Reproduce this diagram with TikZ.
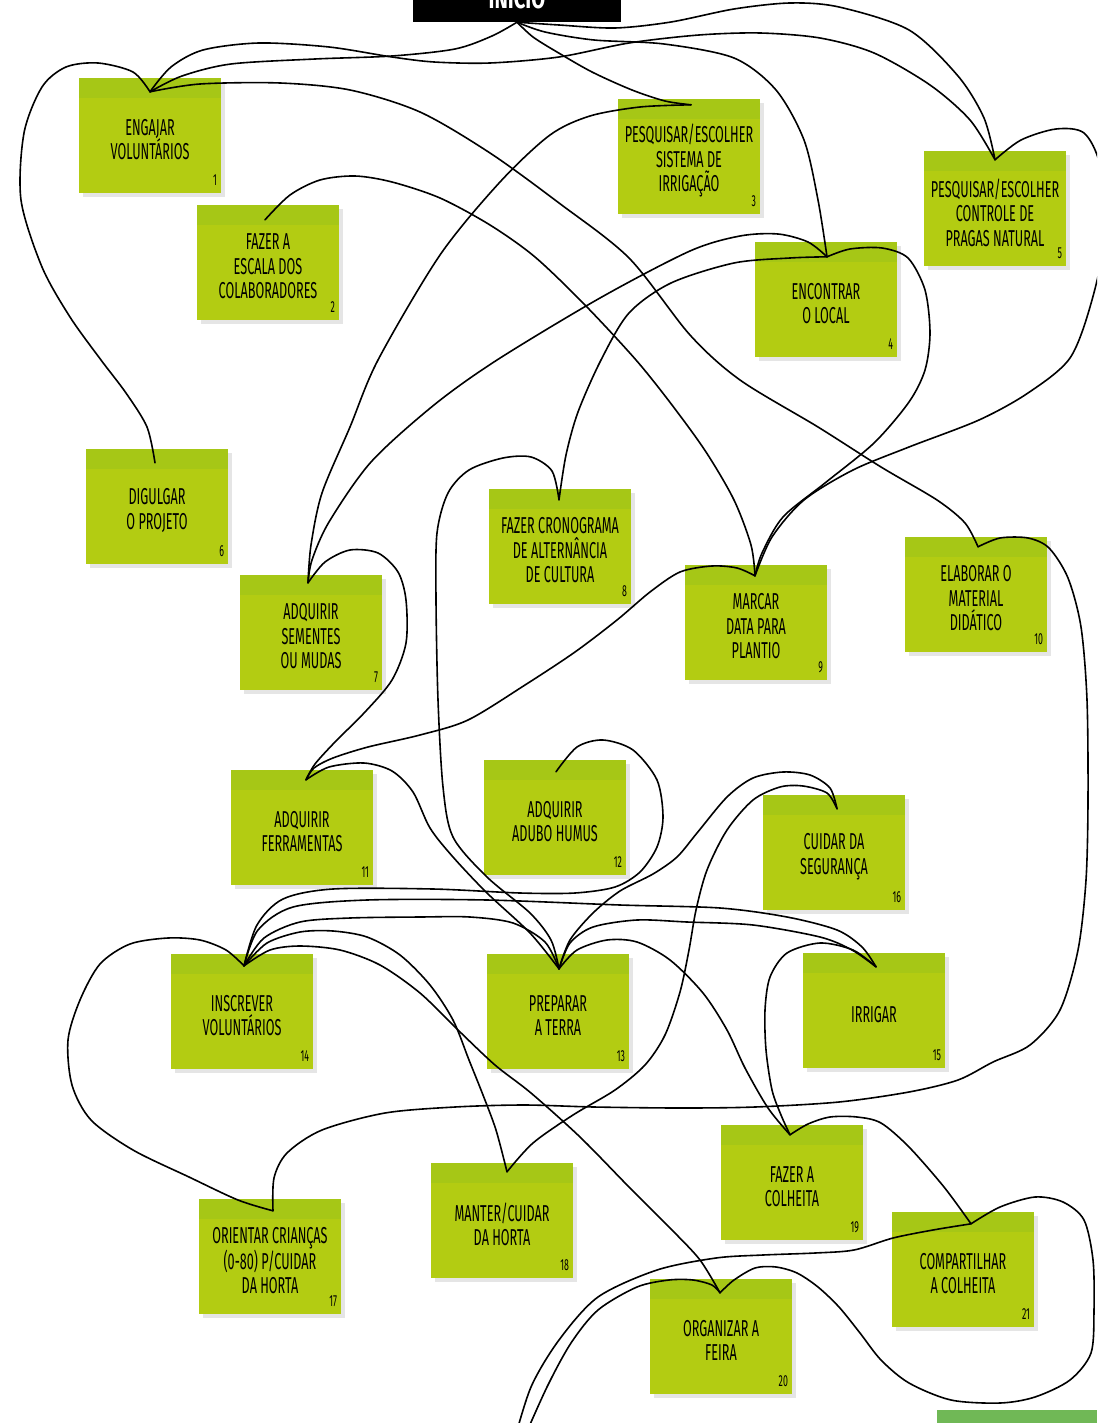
\documentclass[tikz,border=0pt]{standalone}
\usepackage{fontspec}
\newfontfamily\notefont{Fira Sans}[FakeStretch=0.55]
\newfontfamily\startfont{Fira Sans}[FakeStretch=0.72]
\usetikzlibrary{calc,shadows}
\definecolor{noteBody}{RGB}{179,204,18}
\definecolor{noteBand}{RGB}{166,199,22}
\definecolor{nextGreen}{RGB}{112,184,86}
\begin{document}
\begin{tikzpicture}
[x=1pt,y=-1pt,
  noteDecorate/.style={shape=rectangle,fill=noteBody,minimum width=142pt,minimum height=115pt,inner sep=0pt,%
    drop shadow={opacity=1,fill=black!10,shadow xshift=4pt,shadow yshift=-4pt}},%
  textDecorate/.style={align=center,inner sep=0pt,font=\notefont\fontsize{23}{24.5}\selectfont},%
  numDecorate/.style={anchor=east,inner sep=0pt,font=\notefont\fontsize{16}{16}\selectfont},%
  lineDecorate/.style={line width=1.6pt,line join=round,line cap=round}]
\useasboundingbox (0,0) rectangle (1097,1423);
\clip (0,0) rectangle (1097,1423);
%% start box and the cut box at the bottom
\node (start) at (517,0) [fill=black,minimum width=208pt,minimum height=44pt,inner sep=0pt] {};
\node [anchor=base,text=white,font=\startfont\bfseries\fontsize{28}{28}\selectfont] at (517,9) {INÍCIO};
\node (nextbox) at (1017,1425) [fill=nextGreen,minimum width=160pt,minimum height=30pt,inner sep=0pt] {};
\coordinate (t0) at (start.south);
\coordinate (exitA) at (513,1445);
\coordinate (exitB) at (521,1445);
%% notes
\foreach \id/\x/\y/\dx/\dy/\txt in {
  1/150/135.5/0/14/{ENGAJAR\\VOLUNTÁRIOS},
  2/268/262.5/-3/15/{FAZER A\\ESCALA DOS\\COLABORADORES},
  3/689/156.5/2/6/{PESQUISAR/ESCOLHER\\SISTEMA DE\\IRRIGAÇÃO},
  4/826/299.5/1/15/{ENCONTRAR\\O LOCAL},
  5/995/208.5/0/9/{PESQUISAR/ESCOLHER\\CONTROLE DE\\PRAGAS NATURAL},
  6/157/506.5/-2/14/{DIGULGAR\\O PROJETO},
  7/311/632.5/-3/8/{ADQUIRIR\\SEMENTES\\OU MUDAS},
  8/560/546.5/-1/11/{FAZER CRONOGRAMA\\DE ALTERNÂNCIA\\DE CULTURA},
  9/756/622.5/-1/11/{MARCAR\\DATA PARA\\PLANTIO},
  10/976/594.5/2/10/{ELABORAR O\\MATERIAL\\DIDÁTICO},
  11/302/827.5/4/10/{ADQUIRIR\\FERRAMENTAS},
  12/555/817.5/1/12/{ADQUIRIR\\ADUBO HUMUS},
  13/558/1011.5/1/15/{PREPARAR\\A TERRA},
  14/242/1011.5/2/12/{INSCREVER\\VOLUNTÁRIOS},
  15/874/1010.5/2/14/{IRRIGAR},
  16/834/852.5/3/14/{CUIDAR DA\\SEGURANÇA},
  17/270/1256.5/3/12/{ORIENTAR CRIANÇAS\\(0-80) P/CUIDAR\\DA HORTA},
  18/502/1220.5/5/9/{MANTER/CUIDAR\\DA HORTA},
  19/792/1182.5/-2/10/{FAZER A\\COLHEITA},
  20/721/1336.5/-1/14/{ORGANIZAR A\\FEIRA},
  21/963/1269.5/8/12/{COMPARTILHAR\\A COLHEITA}}
{
  \node (n\id) at (\x,\y) [noteDecorate] {};
  \fill [noteBand] (n\id.north west) rectangle ($(n\id.north east)+(0,20)$);
  \node [textDecorate] at ($(n\id.center)+(0,4)$) {\txt};
  \node [numDecorate] at ($(n\id.south east)+(-4,-13)$) {\id};
  \coordinate (t\id) at ($(n\id.north)+(\dx,\dy)$);
}
%% connectors
\draw [lineDecorate] plot [smooth] coordinates {(t0) (492,36) (455,49) (392,56) (315,59) (231,64) (182,76) (t1)};
\draw [lineDecorate] plot [smooth] coordinates {(t0) (533,37) (557,52) (592,72) (632,90) (665,101) (t3)};
\draw [lineDecorate] plot [smooth] coordinates {(t0) (545,32) (594,40) (664,44) (734,58) (776,90) (804,140) (818,200) (t4)};
\draw [lineDecorate] plot [smooth] coordinates {(t0) (559,25) (615,28) (671,22) (734,9) (790,3) (839,7) (909,30) (958,76) (984,118) (t5)};
\draw [lineDecorate] plot [smooth] coordinates {(t1) (171,67) (203,50) (259,43) (329,47) (392,57) (434,62) (490,63) (559,57) (629,43) (699,35) (760,33) (820,38) (874,53) (930,85) (970,120) (t5)};
\draw [lineDecorate] plot [smooth] coordinates {(t1) (200,84) (280,83) (350,90) (420,112) (490,153) (559,203) (629,258) (690,335) (740,380) (818,427) (881,467) (937,500) (965,523) (t10)};
\draw [lineDecorate] plot [smooth] coordinates {(t1) (133,72) (98,63) (66,67) (42,87) (24,133) (21,200) (42,267) (70,317) (101,360) (126,393) (147,427) (t6)};
\draw [lineDecorate] plot [smooth] coordinates {(t2) (290,195) (320,180) (355,176) (392,182) (440,198) (490,225) (535,257) (585,305) (636,360) (672,405) (706,452) (734,500) (751,545) (t9)};
\draw [lineDecorate] plot [smooth] coordinates {(t3) (640,107) (590,116) (550,135) (500,182) (440,255) (378,360) (350,427) (322,493) (311,545) (t7)};
\draw [lineDecorate] plot [smooth] coordinates {(t4) (808,242) (778,234) (740,236) (690,251) (600,298) (497,360) (434,405) (371,462) (329,522) (312,560) (t7)};
\draw [lineDecorate] plot [smooth] coordinates {(t4) (790,258) (734,263) (671,283) (629,313) (601,360) (578,412) (566,455) (t8)};
\draw [lineDecorate] plot [smooth] coordinates {(t4) (850,249) (882,248) (908,258) (925,290) (930,333) (925,370) (909,402) (874,443) (825,483) (783,517) (762,553) (t9)};
\draw [lineDecorate] plot [smooth] coordinates {(t5) (1021,140) (1056,129) (1084,133) (1100,165) (1106,230) (1092,300) (1070,358) (1028,393) (979,420) (909,447) (853,470) (804,500) (772,537) (t9)};
\draw [lineDecorate] plot [smooth] coordinates {(t7) (325,562) (350,550) (378,553) (398,572) (406,600) (406,643) (392,680) (365,712) (335,742) (315,764) (t11)};
\draw [lineDecorate] plot [smooth] coordinates {(t8) (552,471) (531,457) (503,458) (469,470) (448,493) (437,533) (436,600) (438,700) (443,787) (453,837) (487,877) (530,913) (551,940) (t13)};
\draw [lineDecorate] plot [smooth] coordinates {(t9) (737,568) (712,566) (680,572) (650,592) (617,620) (575,652) (525,685) (468,720) (420,735) (368,747) (333,758) (314,768) (t11)};
\draw [lineDecorate] plot [smooth] coordinates {(t10) (1000,538) (1028,538) (1049,548) (1068,578) (1081,627) (1087,700) (1088,800) (1086,880) (1078,950) (1060,1010) (1030,1045) (993,1062) (958,1080) (909,1092) (839,1102) (755,1107) (680,1108) (594,1107) (524,1105) (455,1107) (385,1113) (322,1130) (287,1153) (274,1178) (t17)};
\draw [lineDecorate] plot [smooth] coordinates {(t11) (329,767) (364,763) (392,771) (413,792) (430,828) (453,857) (487,893) (530,933) (t13)};
\draw [lineDecorate] plot [smooth] coordinates {(t12) (577,747) (603,740) (633,750) (657,780) (663,817) (657,847) (640,872) (615,887) (575,893) (520,893) (433,889) (333,889) (283,899) (257,925) (t14)};
\draw [lineDecorate] plot [smooth] coordinates {(t16) (830,788) (810,775) (783,772) (753,778) (727,797) (697,833) (677,857) (653,874) (620,891) (593,913) (570,940) (t13)};
\draw [lineDecorate] plot [smooth] coordinates {(t16) (827,793) (803,786) (780,787) (753,800) (727,830) (707,870) (696,910) (689,950) (680,992) (665,1035) (645,1065) (615,1090) (573,1115) (533,1143) (t18)};
\draw [lineDecorate] plot [smooth] coordinates {(t14) (264,938) (300,922) (350,918) (420,917) (470,917) (513,923) (545,942) (t13)};
\draw [lineDecorate] plot [smooth] coordinates {(t14) (258,930) (293,907) (367,900) (487,900) (620,905) (720,908) (787,917) (837,930) (862,947) (t15)};
\draw [lineDecorate] plot [smooth] coordinates {(t13) (570,943) (593,927) (637,920) (687,922) (753,925) (820,937) (852,950) (t15)};
\draw [lineDecorate] plot [smooth] coordinates {(t14) (267,943) (300,932) (333,931) (367,937) (400,955) (430,985) (453,1020) (469,1060) (483,1095) (496,1130) (t18)};
\draw [lineDecorate] plot [smooth] coordinates {(t14) (270,950) (300,946) (340,950) (380,965) (420,993) (458,1030) (495,1065) (531,1093) (580,1137) (629,1187) (672,1230) (700,1260) (t20)};
\draw [lineDecorate] plot [smooth] coordinates {(t14) (226,950) (200,940) (168,938) (130,944) (100,964) (80,1000) (68,1040) (72,1085) (91,1120) (133,1150) (189,1177) (238,1200) (t17)};
\draw [lineDecorate] plot [smooth] coordinates {(t13) (577,950) (607,940) (637,942) (670,960) (703,993) (727,1030) (745,1068) (768,1108) (t19)};
\draw [lineDecorate] plot [smooth] coordinates {(t15) (853,950) (820,943) (787,953) (770,977) (765,1010) (766,1050) (772,1090) (781,1115) (t19)};
\draw [lineDecorate] plot [smooth] coordinates {(t19) (808,1124) (830,1117) (857,1117) (881,1123) (909,1147) (944,1187) (t21)};
\draw [lineDecorate] plot [smooth] coordinates {(t21) (1000,1207) (1035,1197) (1063,1202) (1084,1220) (1093,1260) (1094,1310) (1091,1353) (1070,1380) (1035,1397) (1000,1403) (951,1400) (909,1383) (881,1360) (860,1333) (839,1307) (818,1287) (797,1273) (776,1267) (755,1268) (734,1280) (t20)};
\draw [lineDecorate] plot [smooth] coordinates {(t21) (933,1230) (893,1238) (854,1250) (815,1253) (763,1255) (716,1258) (657,1270) (598,1297) (559,1340) (531,1387) (exitA)};
\draw [lineDecorate] plot [smooth] coordinates {(t20) (712,1285) (693,1280) (669,1280) (637,1287) (598,1310) (571,1343) (547,1387) (exitB)};
\end{tikzpicture}
\end{document}
